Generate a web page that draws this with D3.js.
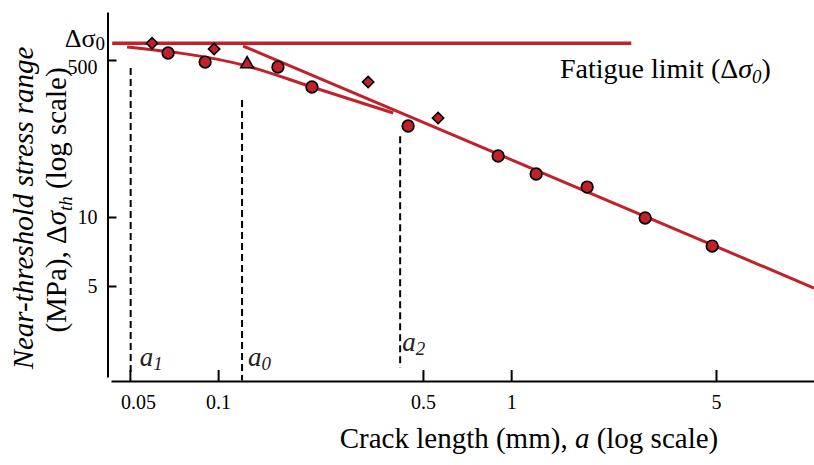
<!DOCTYPE html>
<html>
<head>
<meta charset="utf-8">
<script src="https://cdn.jsdelivr.net/npm/d3@7"></script>
<style>
  body { margin: 0; background: #fff; }
  text { font-family: "Liberation Serif", "Times New Roman", serif; }
</style>
</head>
<body>
<svg id="chart"></svg>
<script>
// crack length a (mm) and threshold stress range (MPa)
const circleA = [0.0675, 0.0903, 0.160, 0.209, 0.445, 0.903, 1.217, 1.817, 2.866, 4.853];
const circleS = [595, 475, 420, 255, 96.5, 45.7, 29.2, 21.1, 9.90, 7.47];
const diamondA = [0.0595, 0.0969, 0.325, 0.563];
const diamondS = [760, 657, 289, 118];
const triangleA = [0.1256];
const triangleS = [452];

const fatigueLimit = 760; // Δσ0
const fatigueA = [0.0435, 2.57];
const lefmA = [0.1217, 10.8]; // straight long-crack line
const lefmS = [708, 4.9];
const curveA = [0.0489, 0.1256, 0.209, 0.396];
const curveS = [691, 430, 255, 133.5];

// a1, a0, a2 markers
const markA = [0.0503, 0.1207, 0.418];
const markTop = [409, 185, 75];
const markBottom = [2.05, 1.93, 2.2];
const markNames = ["1", "0", "2"];

const xTicks = [0.05, 0.1, 0.5, 1, 5];
const yTicks = [5, 10, 500];

const width = 814, height = 465;
const red = "#c0212a";

const svg = d3.select("#chart").attr("width", width).attr("height", height);

// scales (the y axis of the original is not uniform, hence piecewise)
const x = d3.scaleLog().domain([0.0431, 10.8]).range([111, 814]);
const y = d3.scaleLog().domain([2.0, 5, 10, 500, 1650]).range([377, 286, 217, 60, 12]);

// X axis
const gx = svg.append("g")
  .attr("transform", "translate(0,381)")
  .call(d3.axisBottom(x).tickValues(xTicks).tickFormat(d => String(d))
    .tickSizeInner(-11).tickSizeOuter(0).tickPadding(14))
  .attr("font-size", 20)
  .attr("font-family", "Liberation Serif, serif");
gx.selectAll("path, line").attr("stroke", "#000").attr("stroke-width", 2);
gx.selectAll(".tick").filter(d => d === 0.05).select("text").attr("x", 8);

// Y axis
const gy = svg.append("g")
  .attr("transform", "translate(107.5,0)")
  .call(d3.axisLeft(y).tickValues(yTicks).tickFormat(d => String(d))
    .tickSizeInner(-9).tickSizeOuter(0).tickPadding(10))
  .attr("font-size", 20)
  .attr("font-family", "Liberation Serif, serif");
gy.selectAll("path, line").attr("stroke", "#000").attr("stroke-width", 2);
gy.selectAll(".tick").filter(d => d === 500).select("text").attr("y", 7);

// Δσ0 label on the y axis
const d0 = svg.append("text")
  .attr("x", 105).attr("y", y(fatigueLimit) + 4)
  .attr("text-anchor", "end").attr("font-size", 26);
d0.append("tspan").text("Δσ");
d0.append("tspan").attr("font-size", 19).attr("dy", 3).text("0");

// dashed markers
const line = d3.line().x(d => x(d[0])).y(d => y(d[1]));
markA.forEach((a, i) => {
  svg.append("path")
    .datum([[a, markTop[i]], [a, markBottom[i]]])
    .attr("d", line)
    .attr("fill", "none")
    .attr("stroke", "#000")
    .attr("stroke-width", 2)
    .attr("stroke-dasharray", "7,4");
});

// fatigue limit
svg.append("path")
  .datum(fatigueA.map(a => [a, fatigueLimit]))
  .attr("d", line)
  .attr("fill", "none").attr("stroke", red).attr("stroke-width", 3.5);

// short crack curve
svg.append("path")
  .datum(d3.zip(curveA, curveS))
  .attr("d", line.curve(d3.curveMonotoneX))
  .attr("fill", "none").attr("stroke", red).attr("stroke-width", 3);
line.curve(d3.curveLinear);

// long crack line
svg.append("path")
  .datum(d3.zip(lefmA, lefmS))
  .attr("d", line)
  .attr("fill", "none").attr("stroke", red).attr("stroke-width", 3);

// markers
svg.selectAll(".circ")
  .data(d3.zip(circleA, circleS))
  .join("circle")
  .attr("class", "circ")
  .attr("cx", d => x(d[0])).attr("cy", d => y(d[1]))
  .attr("r", 5.8)
  .attr("fill", red).attr("stroke", "#000").attr("stroke-width", 1.7);

svg.selectAll(".dia")
  .data(d3.zip(diamondA, diamondS))
  .join("path")
  .attr("class", "dia")
  .attr("transform", d => `translate(${x(d[0])},${y(d[1])}) rotate(45)`)
  .attr("d", d3.symbol(d3.symbolSquare, 64))
  .attr("fill", red).attr("stroke", "#000").attr("stroke-width", 1.6);

svg.selectAll(".tri")
  .data(d3.zip(triangleA, triangleS))
  .join("path")
  .attr("class", "tri")
  .attr("transform", d => `translate(${x(d[0])},${y(d[1])})`)
  .attr("d", d3.symbol(d3.symbolTriangle, 70))
  .attr("fill", red).attr("stroke", "#000").attr("stroke-width", 1.6);

// a1 / a0 / a2 labels
const labelDx = [9, 6, 2];
const labelY = [366, 366, 351];
markA.forEach((a, i) => {
  const t = svg.append("text")
    .attr("x", x(a) + labelDx[i]).attr("y", labelY[i])
    .attr("font-size", 27).attr("font-style", "italic").attr("fill", "#222");
  t.append("tspan").text("a");
  t.append("tspan").attr("font-size", 19).attr("dy", 4).text(markNames[i]);
});

// fatigue limit label
const fl = svg.append("text").attr("x", 560).attr("y", 78).attr("font-size", 28);
fl.append("tspan").text("Fatigue limit (Δ");
fl.append("tspan").attr("font-style", "italic").text("σ");
fl.append("tspan").attr("font-style", "italic").attr("font-size", 19).attr("dy", 5).text("0");
fl.append("tspan").attr("dy", -5).text(")");

// axis titles
const xt = svg.append("text").attr("x", 529).attr("y", 448)
  .attr("text-anchor", "middle").attr("font-size", 29);
xt.append("tspan").text("Crack length (mm), ");
xt.append("tspan").attr("font-style", "italic").text("a");
xt.append("tspan").text(" (log scale)");

svg.append("text")
  .attr("transform", "translate(33,208) rotate(-90)")
  .attr("text-anchor", "middle").attr("font-size", 29).attr("font-style", "italic")
  .text("Near-threshold stress range");

const yt = svg.append("text")
  .attr("transform", "translate(66,200) rotate(-90)")
  .attr("text-anchor", "middle").attr("font-size", 29);
yt.append("tspan").text("(MPa), Δ");
yt.append("tspan").attr("font-style", "italic").text("σ");
yt.append("tspan").attr("font-style", "italic").attr("font-size", 19).attr("dy", 6).text("th");
yt.append("tspan").attr("dy", -6).text(" (log scale)");
</script>
</body>
</html>
